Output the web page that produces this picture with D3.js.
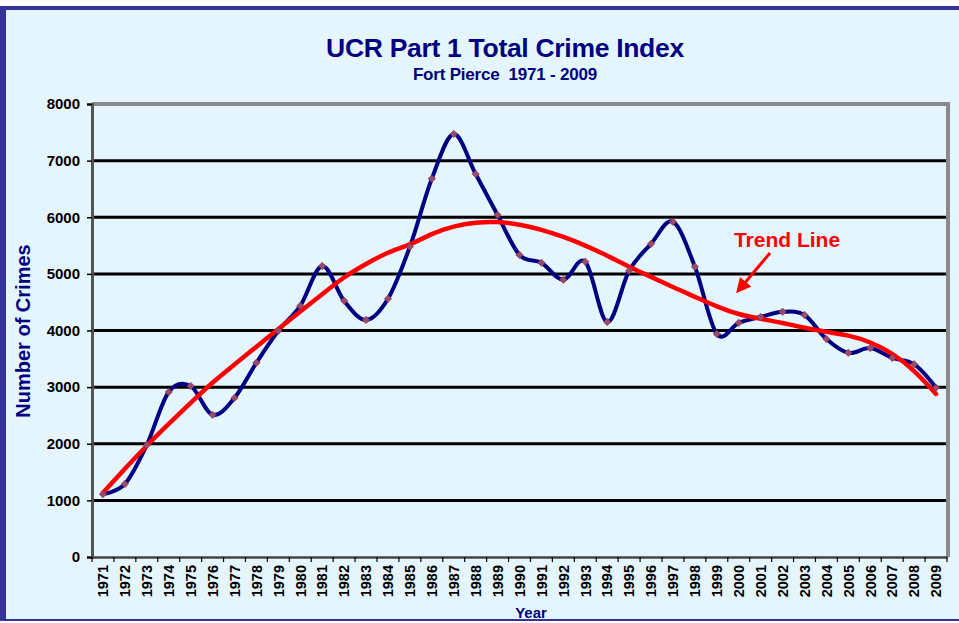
<!DOCTYPE html>
<html><head><meta charset="utf-8">
<script src="https://cdn.jsdelivr.net/npm/d3@7"></script>
<style>
html,body{margin:0;padding:0;background:#fff;}
svg{display:block;font-family:"Liberation Sans",Arial,sans-serif;}
text{white-space:pre;}
</style></head>
<body><svg id="c" width="959" height="623"></svg>
<script>
const years = d3.range(1971, 2010).map(String);
const crimes = [1110,1290,1980,2915,3020,2510,2810,3430,3995,4435,5140,4525,4185,4560,5480,6680,7470,6765,6040,5335,5195,4895,5215,4150,5055,5530,5920,5125,3940,4135,4240,4330,4275,3850,3605,3690,3515,3405,2990];
const trend = [1135,1560,1970,2350,2725,3085,3400,3715,4030,4335,4640,4950,5175,5390,5505,5715,5845,5910,5925,5875,5785,5655,5505,5325,5120,4950,4765,4595,4420,4280,4205,4135,4045,3975,3920,3800,3605,3305,2880];
const yTicks = [0,1000,2000,3000,4000,5000,6000,7000,8000];
const title = "UCR Part 1 Total Crime Index";
const subtitle = "Fort Pierce  1971 - 2009";

const svg = d3.select("#c");
const navy = "#000080";
const bg = "#E5F5FD";

// background and frame
svg.append("rect").attr("x",0).attr("y",0).attr("width",959).attr("height",623).attr("fill","#fff");
svg.append("rect").attr("x",0).attr("y",6).attr("width",959).attr("height",614).attr("fill",bg);
svg.append("rect").attr("x",0).attr("y",6).attr("width",959).attr("height",4).attr("fill","#333399");
svg.append("rect").attr("x",0).attr("y",6).attr("width",6).attr("height",614).attr("fill","#333399");
svg.append("rect").attr("x",0).attr("y",619).attr("width",959).attr("height",2).attr("fill","#333399");

const L=92, R=947, T=104, B=557;
const x = d3.scaleBand().domain(years).range([L,R]);
const y = d3.scaleLinear().domain([0,8000]).range([B,T]);
const cx = d => x(d) + x.bandwidth()/2;

// gridlines
svg.append("g").selectAll("line").data(yTicks.filter(v=>v>0 && v<8000)).join("line")
  .attr("x1",L).attr("x2",R).attr("y1",d=>y(d)).attr("y2",d=>y(d))
  .attr("stroke","#000").attr("stroke-width",3);

// plot frame (top & right gray)
svg.append("line").attr("x1",L).attr("x2",R+2).attr("y1",T).attr("y2",T).attr("stroke","#8a8a8a").attr("stroke-width",4);
svg.append("line").attr("x1",R+1).attr("x2",R+1).attr("y1",T-2).attr("y2",B).attr("stroke","#8a8a8a").attr("stroke-width",4);

// axes
const yAxis = d3.axisLeft(y).tickValues(yTicks).tickSize(5).tickFormat(d3.format("d"));
const gy = svg.append("g").attr("transform",`translate(${L},0)`).call(yAxis);
gy.select(".domain").attr("stroke","#555").attr("stroke-width",3);
gy.selectAll(".tick line").attr("stroke","#000").attr("stroke-width",1.5);
gy.selectAll(".tick text").attr("x",-12).attr("font-size",15).attr("font-weight","bold").attr("fill","#000")
  .attr("font-family","Liberation Sans, Arial, sans-serif");

const xAxis = d3.axisBottom(x).tickSize(0);
const gx = svg.append("g").attr("transform",`translate(0,${B})`).call(xAxis);
gx.select(".domain").attr("stroke","#444").attr("stroke-width",2.5);
gx.selectAll(".tick text").attr("font-size",14.5).attr("font-weight","bold").attr("fill","#000")
  .attr("font-family","Liberation Sans, Arial, sans-serif")
  .attr("transform","rotate(-90)").attr("text-anchor","end").attr("x",-8).attr("y",0).attr("dy","0.36em");
// category boundary ticks
svg.append("g").selectAll("line").data(d3.range(years.length+1)).join("line")
  .attr("x1",i=>L+i*x.bandwidth()).attr("x2",i=>L+i*x.bandwidth())
  .attr("y1",B).attr("y2",B+5).attr("stroke","#000").attr("stroke-width",1.2);

// data line
const line = d3.line().x((d,i)=>cx(years[i])).y(d=>y(d)).curve(d3.curveCatmullRom.alpha(0));
svg.append("path").datum(crimes).attr("d",line).attr("fill","none").attr("stroke",navy).attr("stroke-width",4).attr("stroke-linejoin","round");

// trend line
const tline = d3.line().x((d,i)=>cx(years[i])).y(d=>y(d)).curve(d3.curveBasis);
svg.append("path").datum(trend).attr("d",tline).attr("fill","none").attr("stroke","#FF0000").attr("stroke-width",4.5).attr("stroke-linecap","round");

// markers
svg.append("g").selectAll("path").data(crimes).join("path")
  .attr("d",d3.symbol().type(d3.symbolDiamond2).size(36))
  .attr("transform",(d,i)=>`translate(${cx(years[i])},${y(d)})`)
  .attr("fill","#9A4A6A").attr("stroke","#7a3050").attr("stroke-width",0.5);

// titles
svg.append("text").attr("x",505).attr("y",57).attr("text-anchor","middle").attr("font-size",26.5).attr("font-weight","bold").attr("fill",navy).attr("letter-spacing","-0.3").text(title);
svg.append("text").attr("x",505).attr("y",80).attr("text-anchor","middle").attr("font-size",17).attr("font-weight","bold").attr("fill",navy).attr("letter-spacing","-0.2").text(subtitle);

// axis titles
svg.append("text").attr("transform","translate(30,331) rotate(-90)").attr("text-anchor","middle").attr("font-size",20).attr("font-weight","bold").attr("fill",navy).text("Number of Crimes");
svg.append("text").attr("x",531).attr("y",618).attr("text-anchor","middle").attr("font-size",15).attr("font-weight","bold").attr("fill",navy).text("Year");

// annotation
svg.append("text").attr("x",787).attr("y",247).attr("text-anchor","middle").attr("font-size",21).attr("font-weight","bold").attr("fill","#FF0000").text("Trend Line");
const defs = svg.append("defs");
defs.append("marker").attr("id","ah").attr("viewBox","0 0 10 10").attr("refX",8).attr("refY",5)
  .attr("markerWidth",5).attr("markerHeight",5).attr("orient","auto")
  .append("path").attr("d","M0,0 L10,5 L0,10 z").attr("fill","#FF0000");
svg.append("line").attr("x1",770).attr("y1",253).attr("x2",738).attr("y2",291)
  .attr("stroke","#FF0000").attr("stroke-width",3).attr("marker-end","url(#ah)");
</script></body></html>
